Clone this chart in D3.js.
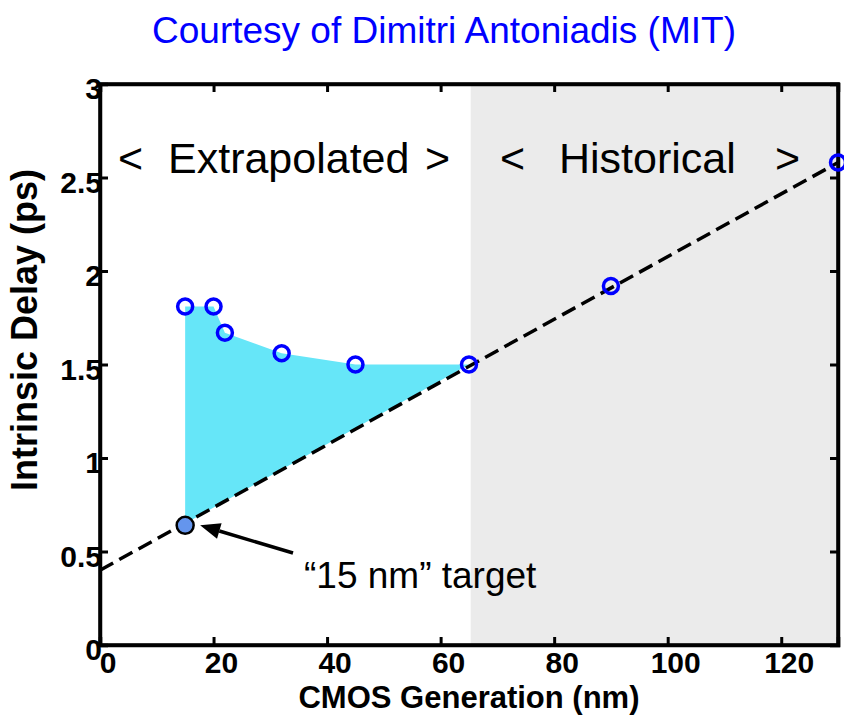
<!DOCTYPE html>
<html>
<head>
<meta charset="utf-8">
<script src="https://cdn.jsdelivr.net/npm/d3@7"></script>
<style>
  html, body { margin: 0; padding: 0; background: #ffffff; }
  svg { display: block; font-family: "Liberation Sans", Arial, Helvetica, sans-serif; }
</style>
</head>
<body>
<svg id="chart" width="844" height="721"></svg>
<script>
// ---- data ----
const generationNm = [15, 20, 22, 32, 45, 65, 90, 130];
const delayPs      = [1.81, 1.81, 1.67, 1.56, 1.50, 1.50, 1.92, 2.58];
const trendX = [0, 130];
const trendY = [0.40, 2.58];
const shadeLowerX = [65, 15];
const shadeLowerY = [1.50, 0.65];
const shadeCount = 6; // first six points bound the shaded region from above
const targetX = 15;
const targetY = 0.64;
const historicalRange = [65.3, 130];
const xTicks = [0, 20, 40, 60, 80, 100, 120];
const yTicks = [0, 0.5, 1, 1.5, 2, 2.5, 3];
const yTickLabels = ["0", "0.5", "1", "1.5", "2", "2.5", "3"];
const titleText = "Courtesy of Dimitri Antoniadis (MIT)";
const xLabel = "CMOS Generation (nm)";
const yLabel = "Intrinsic Delay (ps)";
const targetLabel = "\u201c15 nm\u201d target";

// ---- layout ----
const svg = d3.select("#chart");
const x = d3.scaleLinear().domain([0, 130]).range([100, 838]);
const y = d3.scaleLinear().domain([0, 3]).range([645, 84]);

// historical background
svg.append("rect")
  .attr("x", x(historicalRange[0]))
  .attr("y", y(3))
  .attr("width", x(historicalRange[1]) - x(historicalRange[0]))
  .attr("height", y(0) - y(3))
  .attr("fill", "#ebebeb");

// shaded region
const shadePts = generationNm.slice(0, shadeCount).map((g, i) => [g, delayPs[i]])
  .concat(shadeLowerX.map((g, i) => [g, shadeLowerY[i]]));
svg.append("path")
  .attr("d", d3.line().x(d => x(d[0])).y(d => y(d[1]))(shadePts) + "Z")
  .attr("fill", "#66e6f8");

// trend line
svg.append("path")
  .attr("d", d3.line().x(d => x(d[0])).y(d => y(d[1]))(trendX.map((v, i) => [v, trendY[i]])))
  .attr("fill", "none")
  .attr("stroke", "#000")
  .attr("stroke-width", 3.5)
  .attr("stroke-dasharray", "15,7");

// axes (box with inward ticks)
const tickLen = 8;
const gBottom = svg.append("g").attr("transform", `translate(0,${y(0)})`)
  .call(d3.axisBottom(x).tickValues(xTicks).tickSize(-tickLen).tickFormat(""));
const gTop = svg.append("g").attr("transform", `translate(0,${y(3)})`)
  .call(d3.axisTop(x).tickValues(xTicks).tickSize(-tickLen).tickFormat(""));
const gLeft = svg.append("g").attr("transform", `translate(${x(0)},0)`)
  .call(d3.axisLeft(y).tickValues(yTicks).tickSize(-tickLen).tickFormat(""));
const gRight = svg.append("g").attr("transform", `translate(${x(130)},0)`)
  .call(d3.axisRight(y).tickValues(yTicks).tickSize(-tickLen).tickFormat(""));
[gBottom, gTop, gLeft, gRight].forEach(g => {
  g.select(".domain").attr("stroke", "#000").attr("stroke-width", 3.5);
  g.selectAll(".tick line").attr("stroke", "#000").attr("stroke-width", 3);
});
svg.append("rect")
  .attr("x", x(0)).attr("y", y(3))
  .attr("width", x(130) - x(0)).attr("height", y(0) - y(3))
  .attr("fill", "none").attr("stroke", "#000").attr("stroke-width", 3.5);

// tick labels
svg.append("g").selectAll("text").data(xTicks).join("text")
  .attr("x", d => x(d) + 8)
  .attr("y", 673)
  .attr("text-anchor", "middle")
  .attr("font-size", 30)
  .attr("font-weight", "bold")
  .text(d => d);
svg.append("g").selectAll("text").data(yTicks).join("text")
  .attr("x", x(0) + 2)
  .attr("y", d => y(d) + 15)
  .attr("text-anchor", "end")
  .attr("font-size", 30)
  .attr("font-weight", "bold")
  .text((d, i) => yTickLabels[i]);

// axis titles
svg.append("text")
  .attr("x", 469).attr("y", 708)
  .attr("text-anchor", "middle")
  .attr("font-size", 31).attr("font-weight", "bold")
  .text(xLabel);
svg.append("text")
  .attr("transform", "translate(37,330) rotate(-90)")
  .attr("text-anchor", "middle")
  .attr("font-size", 36).attr("font-weight", "bold")
  .text(yLabel);

// title
svg.append("text")
  .attr("x", 444).attr("y", 43)
  .attr("text-anchor", "middle")
  .attr("font-size", 37)
  .attr("fill", "#0000ff")
  .text(titleText);

// region labels
const regionSize = 43;
svg.append("text").attr("x", 118).attr("y", 173).attr("font-size", regionSize).text("<");
svg.append("text").attr("x", 168).attr("y", 173).attr("font-size", regionSize).text("Extrapolated");
svg.append("text").attr("x", 450).attr("y", 173).attr("text-anchor", "end").attr("font-size", regionSize).text(">");
svg.append("text").attr("x", 500).attr("y", 173).attr("font-size", regionSize).text("<");
svg.append("text").attr("x", 559).attr("y", 173).attr("font-size", regionSize).text("Historical");
svg.append("text").attr("x", 800).attr("y", 173).attr("text-anchor", "end").attr("font-size", regionSize).text(">");

// data points (open circles)
svg.append("g").selectAll("circle").data(generationNm).join("circle")
  .attr("cx", d => x(d))
  .attr("cy", (d, i) => y(delayPs[i]))
  .attr("r", 7.5)
  .attr("fill", "none")
  .attr("stroke", "#0000ff")
  .attr("stroke-width", 3.5);

// target point
svg.append("circle")
  .attr("cx", x(targetX)).attr("cy", y(targetY))
  .attr("r", 8.5)
  .attr("fill", "#6495ed")
  .attr("stroke", "#000")
  .attr("stroke-width", 2.5);

// arrow
const tip = [x(targetX) + 15, y(targetY)];
const tail = [293, 553];
const ang = Math.atan2(tail[1] - tip[1], tail[0] - tip[0]);
const headLen = 20, headW = 8;
const baseC = [tip[0] + headLen * Math.cos(ang), tip[1] + headLen * Math.sin(ang)];
svg.append("line")
  .attr("x1", baseC[0]).attr("y1", baseC[1])
  .attr("x2", tail[0]).attr("y2", tail[1])
  .attr("stroke", "#000").attr("stroke-width", 3.5);
svg.append("path")
  .attr("d", `M${tip[0]},${tip[1]}L${baseC[0] - headW * Math.sin(ang)},${baseC[1] + headW * Math.cos(ang)}L${baseC[0] + headW * Math.sin(ang)},${baseC[1] - headW * Math.cos(ang)}Z`)
  .attr("fill", "#000");

svg.append("text")
  .attr("x", 304).attr("y", 588)
  .attr("font-size", 37)
  .text(targetLabel);
</script>
</body>
</html>
